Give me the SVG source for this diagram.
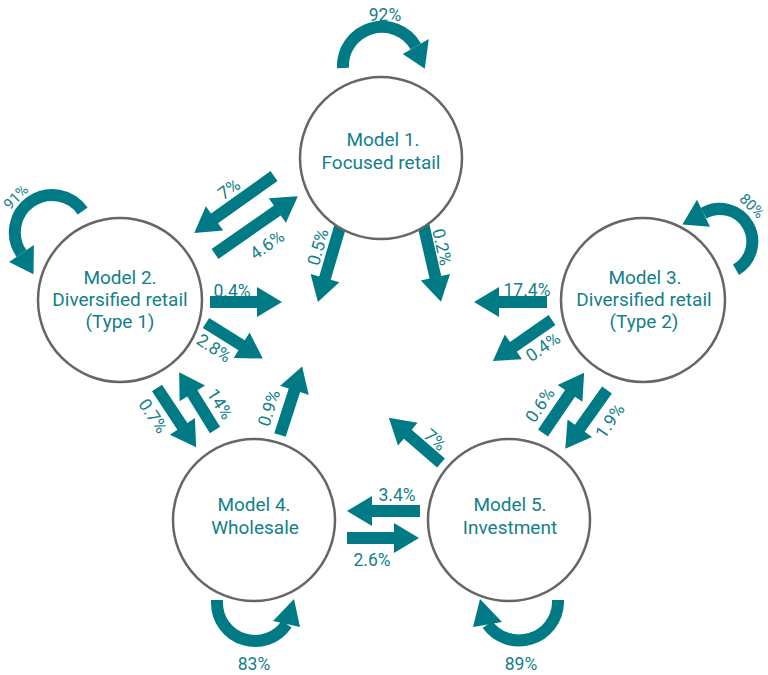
<svg xmlns="http://www.w3.org/2000/svg" width="768" height="675" viewBox="0 0 768 675">
<style>
.node circle{fill:#fff;stroke:#666;stroke-width:2.5}
.nt{font-family:Roboto,"Liberation Sans",sans-serif;font-size:19px;fill:#137f8a;text-anchor:middle}
.arr{fill:#007b86}
.loop{fill:none;stroke:#007b86;stroke-width:12}
.lb{font-family:Roboto,"Liberation Sans",sans-serif;font-size:17.5px;fill:#137f8a;text-anchor:middle}
.lr{dominant-baseline:central}
.sm{font-size:15px}
</style>
<rect width="768" height="675" fill="#fff"/>
<g id="connectors">
  <path class="arr" d="M0,-6H73V-15L98,0L73,15V6H0Z" transform="translate(274,176) rotate(144.5)"/>
  <path class="arr" d="M0,-6H76V-15L101,0L76,15V6H0Z" transform="translate(215,254) rotate(-34.9)"/>
  <path class="arr" d="M0,-6H71V-15L96,0L71,15V6H0Z" transform="translate(345,210) rotate(106.4)"/>
  <path class="arr" d="M0,-6H69V-15L94,0L69,15V6H0Z" transform="translate(420,210) rotate(77.1)"/>
  <path class="arr" d="M0,-6H47V-15L72,0L47,15V6H0Z" transform="translate(210,302)"/>
  <path class="arr" d="M0,-6H42V-15L67,0L42,15V6H0Z" transform="translate(206,323) rotate(32)"/>
  <path class="arr" d="M0,-6H48V-15L73,0L48,15V6H0Z" transform="translate(547,302) rotate(180)"/>
  <path class="arr" d="M0,-6H47V-15L72,0L47,15V6H0Z" transform="translate(552,320) rotate(145.2)"/>
  <path class="arr" d="M0,-6H46V-15L71,0L46,15V6H0Z" transform="translate(157,388) rotate(56.5)"/>
  <path class="arr" d="M0,-6H43V-15L68,0L43,15V6H0Z" transform="translate(215,430) rotate(-121.8)"/>
  <path class="arr" d="M0,-6H47V-15L72,0L47,15V6H0Z" transform="translate(280,435) rotate(-72.1)"/>
  <path class="arr" d="M0,-6H44V-15L69,0L44,15V6H0Z" transform="translate(441,463) rotate(-139.1)"/>
  <path class="arr" d="M0,-6H48V-15L73,0L48,15V6H0Z" transform="translate(543,433) rotate(-55.7)"/>
  <path class="arr" d="M0,-6H47V-15L72,0L47,15V6H0Z" transform="translate(607,390) rotate(125.4)"/>
  <path class="arr" d="M0,-6H48V-15L73,0L48,15V6H0Z" transform="translate(420,511) rotate(180)"/>
  <path class="arr" d="M0,-6H47V-15L72,0L47,15V6H0Z" transform="translate(347,538)"/>
  <path class="loop" d="M343,68 A39,39 0 0 1 415.8,46.5"/>
  <polygon class="arr" points="428.8,39 402.8,54 424.8,68.8"/>
  <path class="loop" d="M82.7,211 A37,37 0 0 0 21.5,253.5"/>
  <polygon class="arr" points="9.1,261.9 33.9,245.1 33.5,274.3"/>
  <path class="loop" d="M736,269.7 A32,32 0 0 0 703.5,213.3"/>
  <polygon class="arr" points="697,199.8 710,226.8 682.4,224.6"/>
  <path class="loop" d="M217,600 L217,603 A38,38 0 0 0 286.6,624.1"/>
  <polygon class="arr" points="273,621 300,627 294,599"/>
  <path class="loop" d="M558,600 L558,603 A39,39 0 0 1 487.5,624.5"/>
  <polygon class="arr" points="502,622 473,627 480,599"/>
  <text class="lb lr" transform="translate(229,189) rotate(-35)">7%</text>
  <text class="lb lr" transform="translate(267,245) rotate(-35)">4.6%</text>
  <text class="lb lr" transform="translate(318,247) rotate(-74)">0.5%</text>
  <text class="lb lr" transform="translate(442,247) rotate(77)">0.2%</text>
  <text class="lb" x="232" y="297">0.4%</text>
  <text class="lb lr" transform="translate(214,348) rotate(33)">2.8%</text>
  <text class="lb" x="527" y="296">17.4%</text>
  <text class="lb lr" transform="translate(543,347) rotate(-35)">0.4%</text>
  <text class="lb lr" transform="translate(153,416) rotate(56)">0.7%</text>
  <text class="lb lr" transform="translate(220,404) rotate(58)">14%</text>
  <text class="lb lr" transform="translate(269,408) rotate(-72)">0.9%</text>
  <text class="lb lr" transform="translate(435,440) rotate(41)">7%</text>
  <text class="lb lr" transform="translate(540,405) rotate(-56)">0.6%</text>
  <text class="lb lr" transform="translate(610,421) rotate(-56)">1.9%</text>
  <text class="lb" x="397" y="501">3.4%</text>
  <text class="lb" x="372" y="566">2.6%</text>
  <text class="lb" x="385" y="21">92%</text>
  <text class="lb lr sm" transform="translate(16,197) rotate(-45)">91%</text>
  <text class="lb lr sm" transform="translate(752,206) rotate(45)">80%</text>
  <text class="lb" x="254" y="670">83%</text>
  <text class="lb" x="521" y="670">89%</text>
</g>
<g id="model1" class="node">
  <circle cx="381" cy="158" r="81"/>
  <text class="nt" x="383" y="146">Model 1.</text>
  <text class="nt" x="381" y="169">Focused retail</text>
</g>
<g id="model2" class="node">
  <circle cx="120" cy="300" r="82"/>
  <text class="nt" x="120" y="284">Model 2.</text>
  <text class="nt" x="120" y="306">Diversified retail</text>
  <text class="nt" x="120" y="328">(Type 1)</text>
</g>
<g id="model3" class="node">
  <circle cx="643" cy="300" r="82"/>
  <text class="nt" x="645" y="284">Model 3.</text>
  <text class="nt" x="644" y="306">Diversified retail</text>
  <text class="nt" x="644" y="328">(Type 2)</text>
</g>
<g id="model4" class="node">
  <circle cx="254" cy="520" r="81"/>
  <text class="nt" x="254" y="511">Model 4.</text>
  <text class="nt" x="255" y="534">Wholesale</text>
</g>
<g id="model5" class="node">
  <circle cx="509" cy="520" r="81"/>
  <text class="nt" x="510" y="511">Model 5.</text>
  <text class="nt" x="510" y="534">Investment</text>
</g>
</svg>
